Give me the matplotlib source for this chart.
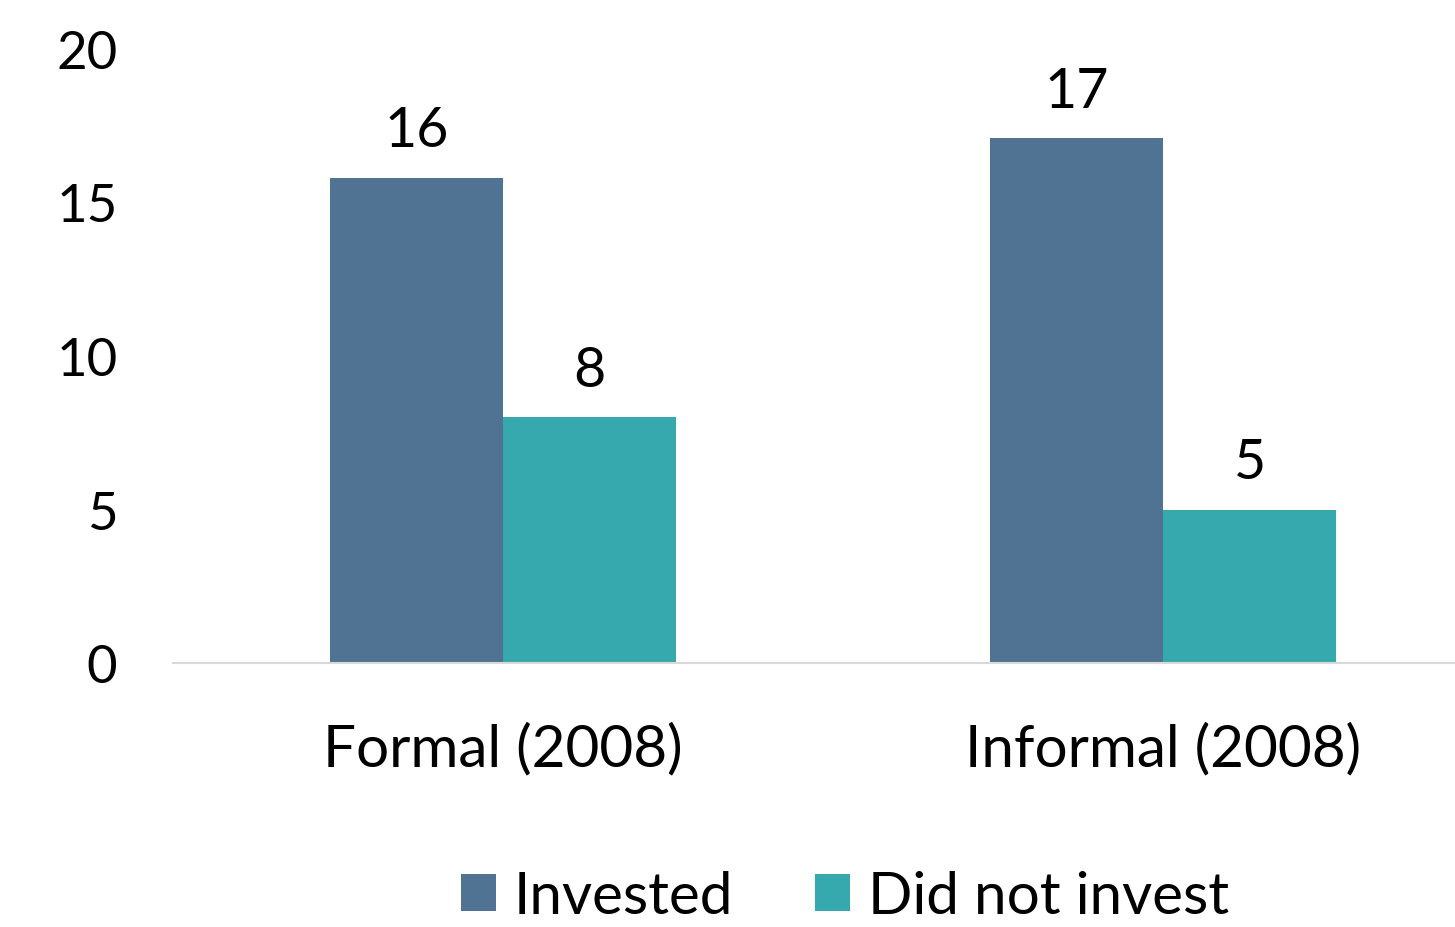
import matplotlib.pyplot as plt
import numpy as np

plt.rcParams['font.family'] = ['Lato', 'DejaVu Sans']

categories = ["Formal (2008)", "Informal (2008)"]
invested = [15.8, 17.1]
not_invested = [8.0, 5.0]
series_names = ["Invested", "Did not invest"]
colors = ["#507393", "#36A9AE"]

fig = plt.figure(figsize=(14.55, 9.28), dpi=100)
ax = fig.add_axes([173 / 1455, 1 - 664 / 928, 1 - 173 / 1455, (664 - 50) / 928])

x = np.arange(len(categories))
w = 0.262
b1 = ax.bar(x - w / 2, invested, w, color=colors[0], label=series_names[0])
b2 = ax.bar(x + w / 2, not_invested, w, color=colors[1], label=series_names[1])

for bars in (b1, b2):
    for r in bars:
        ax.text(r.get_x() + r.get_width() / 2, r.get_height() + 0.7, f"{r.get_height():.0f}",
                ha="center", va="bottom", fontsize=40)

ax.set_xlim(-0.5, 1.442)
ax.set_ylim(0, 20)
ax.set_yticks([0, 5, 10, 15, 20])
ax.set_xticks(x)
ax.set_xticklabels(categories)
ax.tick_params(axis="y", length=0, labelsize=38, pad=40)
ax.tick_params(axis="x", length=0, labelsize=42, pad=42)
for s in ["top", "right", "left"]:
    ax.spines[s].set_visible(False)
ax.spines["bottom"].set_color("#d9d9d9")
ax.spines["bottom"].set_linewidth(1.5)

fig.legend(loc="center", bbox_to_anchor=(845 / 1455, 1 - 898 / 928), ncol=2, frameon=False,
           fontsize=42, handlelength=0.6, handleheight=0.6, handletextpad=0.3, columnspacing=1.4)

fig.savefig("out.png", dpi=100)
